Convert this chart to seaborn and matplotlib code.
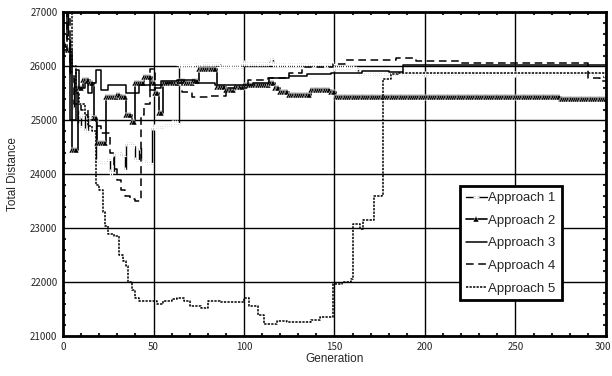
import pandas as pd
import numpy as np
import matplotlib
matplotlib.use("Agg")
import matplotlib.pyplot as plt
import matplotlib.transforms as mtransforms
import seaborn as sns

# ---- data (generation -> best total distance) ----
gens = np.arange(0, 301)

a1_gen = [0, 2, 3, 4, 6, 8, 10, 12, 14, 16, 18, 24, 26, 28, 32, 34, 35, 38, 40, 42, 43, 46,
          49, 55, 60, 64, 72, 76, 83, 87, 99, 114, 116, 132, 150, 161, 163, 290]
a1_val = [27800, 27200, 26500, 25800, 25200, 24900, 25100, 24800, 25100, 25000, 24230, 24260,
          24040, 24390, 24330, 24080, 24580, 24550, 24260, 24500, 24240, 24200,
          24880, 24920, 24950, 26020, 26050, 26060, 26060, 25990, 26070, 26130, 26050, 26040,
          25970, 25950, 25860, 25860]

a2_gen = [0, 2, 5, 8, 11, 15, 17, 19, 24, 30, 32, 35, 38, 40, 45, 49, 51, 53, 55, 64, 68,
          72, 75, 85, 90, 95, 100, 114, 117, 120, 125, 137, 148, 151, 275]
a2_val = [26400, 26300, 24450, 25600, 25750, 25700, 25040, 24580, 25430, 25470, 25430, 25100,
          24970, 25700, 25800, 25700, 25500, 25130, 25700, 25720, 25690,
          25720, 25960, 25620, 25560, 25620, 25650, 25690, 25600, 25520, 25470, 25560, 25520,
          25430, 25400]

a3_gen = [0, 2, 4, 7, 9, 12, 14, 16, 18, 21, 25, 35, 42, 48, 51, 54, 63, 73, 84, 95, 105,
          114, 125, 135, 148, 165, 180, 188]
a3_val = [27800, 26500, 25000, 25930, 25600, 25700, 25500, 25700, 25930, 25560, 25650, 25500,
          25650, 25570, 25600, 25720, 25750, 25700, 25650, 25650, 25700,
          25780, 25820, 25860, 25880, 25920, 25890, 26030]

a4_gen = [0, 2, 4, 6, 10, 14, 18, 21, 26, 28, 30, 32, 34, 37, 40, 43, 45, 48, 51, 57, 66,
          71, 82, 90, 102, 113, 125, 132, 149, 156, 184, 195, 219, 290, 297]
a4_val = [26300, 27100, 25900, 25300, 25200, 25000, 24900, 24760, 24400, 24100, 23900, 23700,
          23600, 23550, 23500, 25100, 25300, 25950, 25650, 25700, 25520,
          25430, 25450, 25600, 25740, 25780, 25870, 25980, 26050, 26120, 26150, 26100, 26070,
          25790, 25720]

a5_gen = [0, 3, 5, 7, 9, 12, 14, 16, 18, 20, 22, 23, 25, 28, 31, 33, 35, 36, 38, 40, 42,
          50, 52, 55, 60, 63, 67, 70, 76, 80, 87, 94, 100, 103, 108, 111, 118, 124, 137, 142,
          149, 154, 159, 160, 164, 166, 172, 176, 177, 181, 185]
a5_val = [27800, 27000, 26000, 25500, 25300, 25100, 24900, 24800, 23800, 23700, 23300, 23050,
          22900, 22850, 22500, 22400, 22300, 22000, 21850, 21700, 21650,
          21660, 21600, 21650, 21680, 21700, 21650, 21550, 21520, 21650, 21630, 21640, 21700,
          21560, 21400, 21220, 21280, 21270, 21300, 21350,
          21960, 22000, 22060, 23070, 22990, 23150, 23600, 23620, 25770, 25860, 25880]

labels = ["Approach 1", "Approach 2", "Approach 3", "Approach 4", "Approach 5"]
series_pts = [(a1_gen, a1_val), (a2_gen, a2_val), (a3_gen, a3_val),
              (a4_gen, a4_val), (a5_gen, a5_val)]

# hold each best-so-far value until the next change
frames = []
for name, (g, v) in zip(labels, series_pts):
    s = pd.Series(v, index=g).reindex(gens).ffill()
    frames.append(pd.DataFrame({"Generation": gens, "Total Distance": s.values, "Approach": name}))
df = pd.concat(frames, ignore_index=True)

# ---- plot ----
sns.set_style("white")
plt.rcParams["font.family"] = ["Liberation Sans", "DejaVu Sans"]

fig = plt.figure(figsize=(6.12, 3.76), dpi=100)
ax = fig.add_axes([0.103, 0.106, 0.887, 0.861])

styles = {
    "Approach 1": dict(linestyle="-", lw=1.0, marker="+", markersize=4, markeredgewidth=0.9),
    "Approach 2": dict(linestyle="-", lw=1.2, marker="^", markersize=4, markeredgewidth=0.3),
    "Approach 3": dict(linestyle="-", lw=1.1),
    "Approach 4": dict(linestyle=(0, (5, 3)), lw=1.1),
    "Approach 5": dict(linestyle=(0, (1.5, 0.8)), lw=1.1),
}

for name in labels:
    d = df[df["Approach"] == name]
    sns.lineplot(data=d, x="Generation", y="Total Distance", ax=ax, color="black",
                 drawstyle="steps-post", label=name, **styles[name])

ax.set_xlim(0, 300)
ax.set_ylim(21000, 27000)
ax.set_xticks(range(0, 301, 50))
ax.set_yticks(range(21000, 27001, 1000))
ax.set_xticks(range(0, 301, 10), minor=True)
ax.set_yticks(range(21000, 27001, 200), minor=True)
ax.grid(True, which="major", color="black", lw=1.0)
ax.tick_params(which="major", length=0, pad=4)
ax.tick_params(which="minor", direction="in", length=2.5, width=1.5,
               top=True, right=True, bottom=True, left=True)
for lab in ax.get_xticklabels() + ax.get_yticklabels():
    lab.set_fontfamily(["Noto Sans CJK JP", "DejaVu Sans"])
    lab.set_fontsize(7)
# keep the last x label inside the figure
last = ax.get_xticklabels()[-1]
last.set_transform(last.get_transform() + mtransforms.ScaledTranslation(-3 / 100, 0, fig.dpi_scale_trans))
for sp in ax.spines.values():
    sp.set_color("black")
    sp.set_linewidth(2)

ax.set_xlabel("Generation", fontsize=8.5, labelpad=1)
ax.set_ylabel("Total Distance", fontsize=8.5, labelpad=8)

leg = ax.legend(loc="upper left", bbox_to_anchor=(0.731, 0.463), fontsize=9.5,
                frameon=True, fancybox=False, framealpha=1, edgecolor="black",
                handlelength=1.6, handletextpad=0.1, labelspacing=0.78,
                borderpad=0.45, borderaxespad=0)
leg.get_frame().set_linewidth(2)

fig.savefig("out.png", dpi=100)
